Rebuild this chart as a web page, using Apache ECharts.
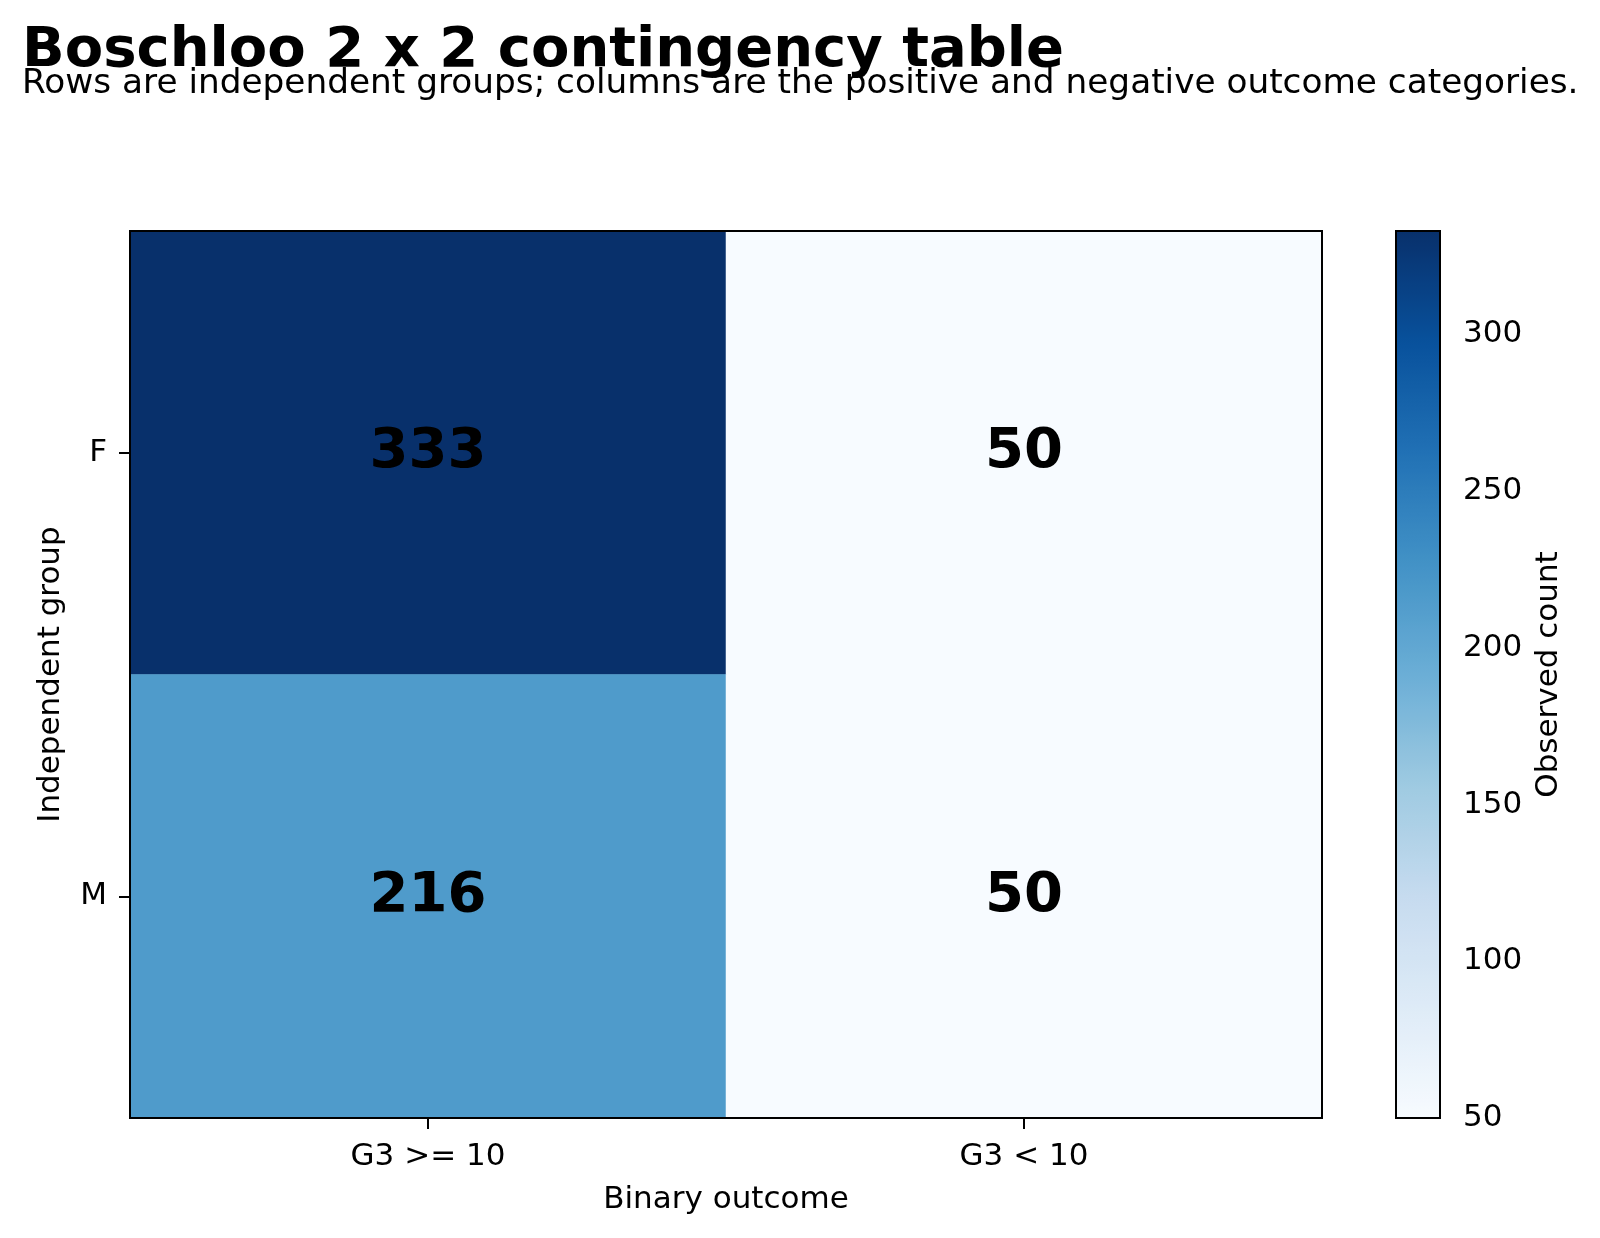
<!DOCTYPE html>
<html>
	<head>
		<meta charset="UTF-8">
		<title>Boschloo 2 x 2 contingency table</title>
		<script src="https://cdn.jsdelivr.net/npm/echarts@6/dist/echarts.min.js"></script>
		<style type="text/css">
			body { margin: 0; background: #fff; }
		</style>
	</head>
	<body>
		<div id="box" style="width:1600px;height:1238px;"></div>

		<script type="text/javascript">
			// data
			var groups = ['F', 'M'];
			var outcomes = ['G3 >= 10', 'G3 < 10'];
			var countsF = [333, 50];
			var countsM = [216, 50];
			var cbTicks = [50, 100, 150, 200, 250, 300];
			var cbMin = 50, cbMax = 333;

			// matplotlib "Blues"
			var blues = ['#f7fbff', '#deebf7', '#c6dbef', '#9ecae1', '#6baed6', '#4292c6', '#2171b5', '#08519c', '#08306b'];

			var rows = [countsF, countsM];
			var cells = [];
			for (var r = 0; r < rows.length; r++) {
				for (var c = 0; c < outcomes.length; c++) {
					cells.push([c, r, rows[r][c]]);
				}
			}

			var FONT = 'DejaVu Sans';
			var FS = 31;
			var myChart = echarts.init(document.getElementById('box'));

			var option = {
				animation: false,
				textStyle: { fontFamily: FONT, color: '#000' },
				title: [{
					text: 'Boschloo 2 x 2 contingency table',
					left: 22, top: 23, padding: 0,
					textStyle: { fontFamily: FONT, fontSize: 56, fontWeight: 'bold', color: '#000' }
				}, {
					text: 'Rows are independent groups; columns are the positive and negative outcome categories.',
					left: 22, top: 67, padding: 0,
					textStyle: { fontFamily: FONT, fontSize: 34.3, fontWeight: 'normal', color: '#000' }
				}],
				grid: [{
					left: 130, top: 231, width: 1192, height: 887,
					show: true, z: 10, backgroundColor: 'transparent',
					borderColor: '#000', borderWidth: 2
				}, {
					left: 1396, top: 231, width: 44, height: 887,
					show: true, z: 10, backgroundColor: 'transparent',
					borderColor: '#000', borderWidth: 2
				}],
				xAxis: [{
					gridIndex: 0,
					type: 'category',
					data: outcomes,
					name: 'Binary outcome',
					nameLocation: 'middle',
					nameGap: 66,
					nameTextStyle: { fontSize: FS, color: '#000' },
					axisLine: { show: false },
					axisTick: { show: true, alignWithLabel: true, length: 11, lineStyle: { color: '#000', width: 2 } },
					axisLabel: { fontSize: FS, color: '#000', margin: 23 },
					splitLine: { show: false }
				}, {
					gridIndex: 1,
					type: 'value',
					show: false
				}],
				yAxis: [{
					gridIndex: 0,
					type: 'category',
					data: groups,
					inverse: true,
					name: 'Independent group',
					nameLocation: 'middle',
					nameGap: 64,
					nameTextStyle: { fontSize: FS, color: '#000' },
					axisLine: { show: false },
					axisTick: { show: true, alignWithLabel: true, length: 11, lineStyle: { color: '#000', width: 2 } },
					axisLabel: { fontSize: FS, color: '#000', margin: 23 },
					splitLine: { show: false }
				}, {
					gridIndex: 1,
					type: 'value',
					position: 'right',
					min: cbMin, max: cbMax,
					name: 'Observed count',
					nameLocation: 'middle',
					nameRotate: 90,
					nameGap: 93,
					nameTextStyle: { fontSize: FS, color: '#000' },
					axisLine: { show: false },
					axisTick: { show: true, length: 11, customValues: cbTicks, lineStyle: { color: '#000', width: 2 } },
					axisLabel: { fontSize: FS, color: '#000', margin: 23, customValues: cbTicks },
					splitLine: { show: false }
				}],
				visualMap: {
					type: 'continuous',
					seriesIndex: 0,
					dimension: 2,
					min: cbMin, max: cbMax,
					calculable: false,
					orient: 'vertical',
					left: 1391, top: 226,
					padding: 5,
					itemWidth: 44,
					itemHeight: 887,
					text: null,
					inRange: { color: blues }
				},
				series: [{
					type: 'heatmap',
					xAxisIndex: 0,
					yAxisIndex: 0,
					data: cells,
					itemStyle: { borderWidth: 0 },
					label: {
						show: true,
						fontFamily: FONT,
						fontSize: 56,
						fontWeight: 'bold',
						color: '#000',
						formatter: function (p) { return p.value[2]; }
					},
					emphasis: { disabled: true }
				}]
			};
			myChart.setOption(option);
		</script>
	</body>
</html>
